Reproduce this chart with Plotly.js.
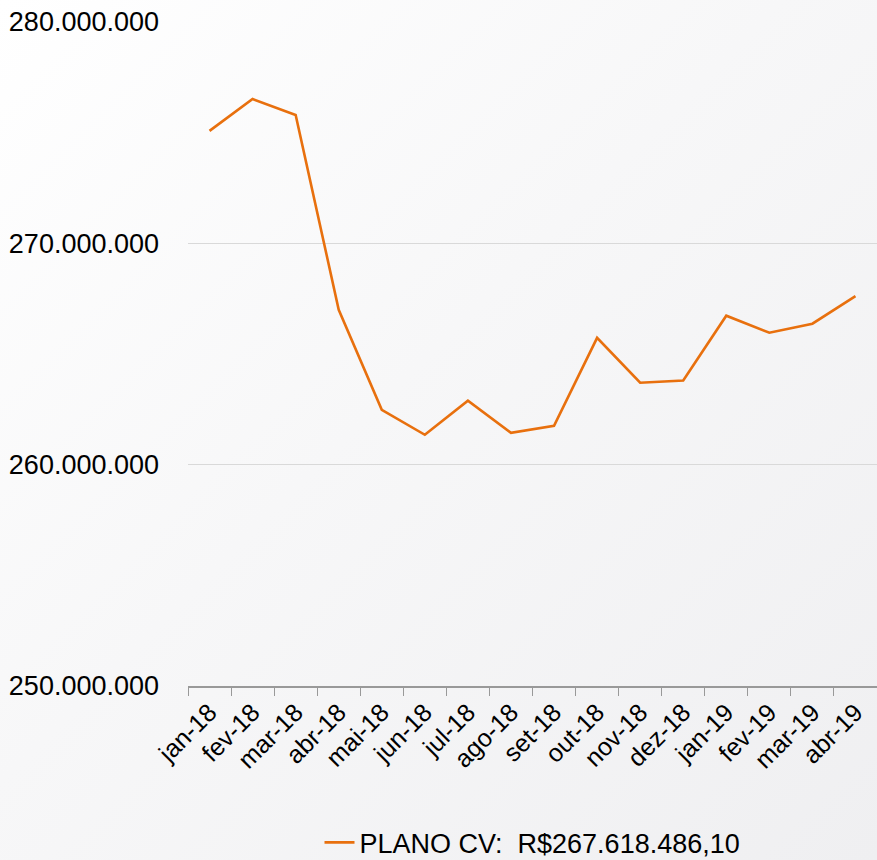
<!DOCTYPE html>
<html>
<head>
<meta charset="utf-8">
<script src="https://cdn.plot.ly/plotly-3.0.1.min.js"></script>
<style>
  html, body { margin: 0; padding: 0; }
  body { background: linear-gradient(135deg, #ffffff 0%, #f7f7f8 45%, #efeff1 100%); }
  #chart { width: 877px; height: 860px; }
</style>
</head>
<body>
<div id="chart"></div>
<script>
// meses e valores do plano CV
var months = ['jan-18', 'fev-18', 'mar-18', 'abr-18', 'mai-18', 'jun-18', 'jul-18', 'ago-18',
              'set-18', 'out-18', 'nov-18', 'dez-18', 'jan-19', 'fev-19', 'mar-19', 'abr-19'];

var planoCV = [275080000, 276520000, 275800000, 267000000, 262480000, 261350000, 262890000, 261440000,
               261760000, 265730000, 263700000, 263800000, 266730000, 265960000, 266370000, 267618486.10];

var seriesName = 'PLANO CV:\u00a0\u00a0R$267.618.486,10';

var trace = {
    x: months,
    y: planoCV,
    type: 'scatter',
    mode: 'lines',
    name: seriesName,
    line: {color: '#e8700e', width: 2.6},
    showlegend: true
};

var layout = {
    width: 877,
    height: 860,
    margin: {l: 188, r: 0, t: 22, b: 174},
    paper_bgcolor: 'rgba(0,0,0,0)',
    plot_bgcolor: 'rgba(0,0,0,0)',
    separators: ',.',
    font: {family: 'Liberation Sans, Arial, sans-serif', color: '#000', size: 26},
    showlegend: true,
    legend: {
        orientation: 'h',
        x: 0.5, xanchor: 'center',
        yref: 'container',
        y: 0.02, yanchor: 'middle',
        font: {size: 27}
    },
    xaxis: {
        type: 'category',
        range: [-0.5, 15.5],
        tickangle: -45,
        tickson: 'boundaries',
        ticks: 'outside',
        ticklen: 8,
        tickcolor: '#999',
        showline: true,
        linecolor: '#999',
        linewidth: 1.5,
        showgrid: false,
        automargin: false,
        tickfont: {size: 25}
    },
    yaxis: {
        range: [250000000, 280000000],
        dtick: 10000000,
        tickformat: ',d',
        showgrid: true,
        gridcolor: '#d9d9d9',
        gridwidth: 1,
        zeroline: false,
        showline: false,
        ticks: '',
        automargin: false,
        ticklabelstandoff: 28,
        tickfont: {size: 27}
    }
};

Plotly.newPlot('chart', [trace], layout, {displayModeBar: false});
</script>
</body>
</html>
